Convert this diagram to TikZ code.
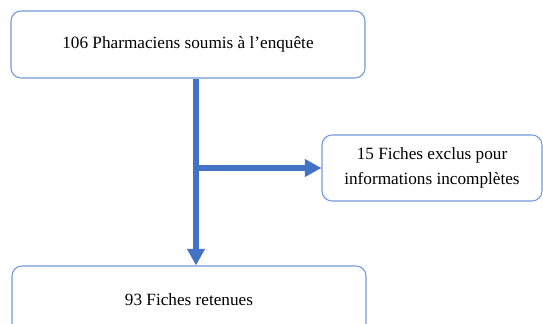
\documentclass[tikz,border=0pt]{standalone}
\usepackage{fontspec}
\setmainfont{Liberation Serif}
\usetikzlibrary{arrows.meta}

\definecolor{boxblue}{HTML}{7398DA}
\definecolor{flowblue}{HTML}{4472C4}

\tikzset{
  stepbox/.style={draw=boxblue, line width=0.8pt, rounded corners=7.5pt, fill=white,
    align=center, inner sep=0pt, font=\fontsize{12.9pt}{18.75pt}\selectfont},
  flow/.style={flowblue, line width=4.5pt},
  flowtip/.style={-{Triangle[length=12.5pt,width=12.75pt]}},
}

\begin{document}
\begin{tikzpicture}[x=0.75pt, y=-0.75pt]

    % Page frame (pixels of the reference)
    \path[use as bounding box, clip] (0,0) rectangle (543,324);

    % The three boxes
    \node[stepbox, minimum width=265.5pt, minimum height=50.25pt] (enquete) at (188,44.5)
        {106 Pharmaciens soumis à l’enquête};
    \node[stepbox, minimum width=165pt, minimum height=49.5pt] (exclus) at (432,168)
        {15 Fiches exclus pour\\informations incomplètes};
    \node[stepbox, minimum width=265.5pt, minimum height=50.25pt] (retenues) at (189,299.5)
        {93 Fiches retenues};

    % Branch point on the main arrow
    \coordinate (branch) at (196,168);

    % Main arrow down, then side arrow to the excluded sheets
    \draw[flow, flowtip] (enquete.south -| branch) -- (retenues.north -| branch);
    \draw[flow, flowtip] (branch) -- (exclus.west);
\end{tikzpicture}
\end{document}
